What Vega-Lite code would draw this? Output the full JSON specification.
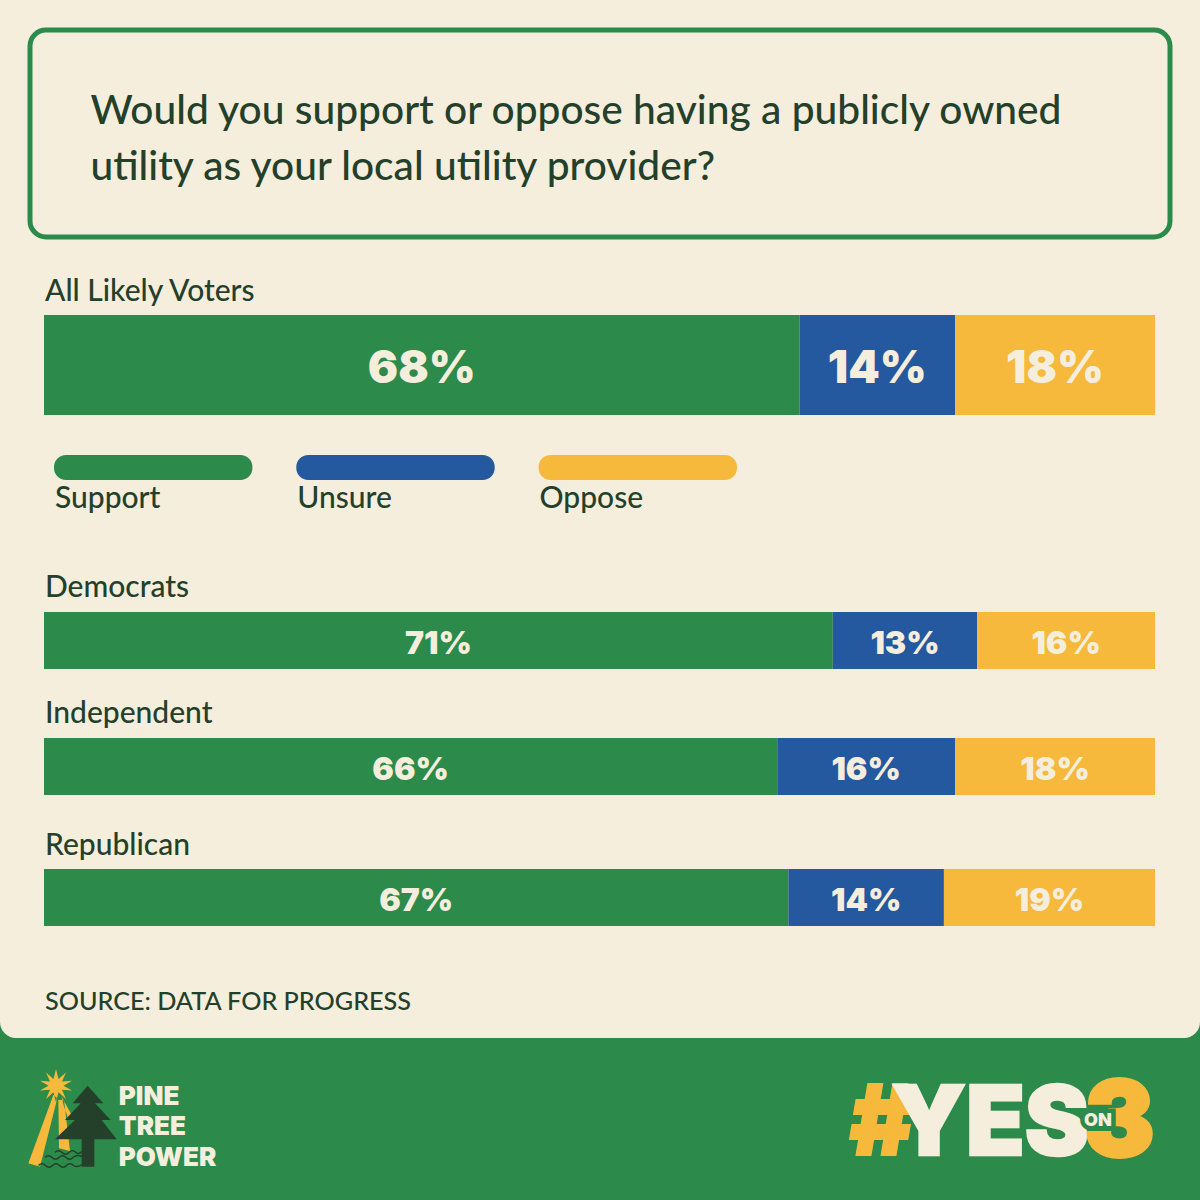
{
  "$schema": "https://vega.github.io/schema/vega-lite/v6.json",
  "background": "#2c8a4b",
  "padding": 0,
  "spacing": 0,
  "bounds": "flush",
  "config": {
    "axis": {"disable": true},
    "view": {"stroke": null, "fill": "#f5eedd"},
    "text": {"font": "Lato", "color": "#24402a"}
  },
  "datasets": {
    "poll": [
      {"group": "All Likely Voters", "response": "Support", "rank": 1, "share": 0.68},
      {"group": "All Likely Voters", "response": "Unsure", "rank": 2, "share": 0.14},
      {"group": "All Likely Voters", "response": "Oppose", "rank": 3, "share": 0.18},
      {"group": "Democrats", "response": "Support", "rank": 1, "share": 0.71},
      {"group": "Democrats", "response": "Unsure", "rank": 2, "share": 0.13},
      {"group": "Democrats", "response": "Oppose", "rank": 3, "share": 0.16},
      {"group": "Independent", "response": "Support", "rank": 1, "share": 0.66},
      {"group": "Independent", "response": "Unsure", "rank": 2, "share": 0.16},
      {"group": "Independent", "response": "Oppose", "rank": 3, "share": 0.18},
      {"group": "Republican", "response": "Support", "rank": 1, "share": 0.67},
      {"group": "Republican", "response": "Unsure", "rank": 2, "share": 0.14},
      {"group": "Republican", "response": "Oppose", "rank": 3, "share": 0.19}
    ],
    "question": [
      {"line": "Would you support or oppose having a publicly owned"},
      {"line": "utility as your local utility provider?"}
    ],
    "responses": [{"response": "Support"}, {"response": "Unsure"}, {"response": "Oppose"}]
  },
  "vconcat": [
    {
      "width": 1200,
      "height": 250,
      "layer": [
        {
          "data": {"values": [{}]},
          "mark": {"type": "rect", "fillOpacity": 0, "stroke": "#2c8a4b", "strokeWidth": 5, "cornerRadius": 16},
          "encoding": {
            "x": {"datum": 0, "type": "quantitative", "scale": {"domain": [0, 100], "range": [30, 1170]}},
            "x2": {"datum": 100},
            "y": {"datum": 0, "type": "quantitative", "scale": {"domain": [0, 100], "range": [30, 237]}},
            "y2": {"datum": 100}
          }
        },
        {
          "data": {"name": "question"},
          "mark": {"type": "text", "align": "left", "baseline": "middle", "fontSize": 40.7, "fontWeight": 500},
          "encoding": {
            "x": {"datum": 5.3, "type": "quantitative", "scale": {"domain": [0, 100], "range": [30, 1170]}},
            "y": {"field": "line", "type": "nominal", "sort": null, "scale": {"type": "point", "range": [112, 168], "padding": 0}},
            "text": {"field": "line"}
          }
        }
      ],
      "resolve": {"scale": {"y": "independent"}}
    },
    {
      "width": 1200,
      "height": 165,
      "data": {"name": "poll"},
      "transform": [
        {"filter": "datum.group === 'All Likely Voters'"},
        {"stack": "share", "groupby": ["group"], "sort": [{"field": "rank"}], "as": ["x0", "x1"]},
        {"calculate": "(datum.x0 + datum.x1) / 2", "as": "mid"}
      ],
      "encoding": {
        "y": {"field": "group", "type": "nominal", "scale": {"range": [65, 165], "paddingInner": 0, "paddingOuter": 0}}
      },
      "layer": [
        {
          "mark": {"type": "rect"},
          "encoding": {
            "x": {"field": "x0", "type": "quantitative", "scale": {"domain": [0, 1], "range": [44, 1155]}},
            "x2": {"field": "x1"},
            "color": {"field": "response", "type": "nominal", "legend": null, "scale": {"domain": ["Support", "Unsure", "Oppose"], "range": ["#2c8a4b", "#24589f", "#f6b93b"]}}
          }
        },
        {
          "mark": {"type": "text", "font": "Inter", "baseline": "middle", "dy": 4, "fontSize": 45, "fontWeight": 900, "color": "#f5eedd"},
          "encoding": {
            "x": {"field": "mid", "type": "quantitative", "scale": {"domain": [0, 1], "range": [44, 1155]}},
            "text": {"field": "share", "format": ".0%"}
          }
        },
        {
          "transform": [{"filter": "datum.rank === 1"}],
          "mark": {"type": "text", "align": "left", "baseline": "alphabetic", "dx": 1, "dy": -14, "fontSize": 30, "fontWeight": 500},
          "encoding": {
            "x": {"datum": 0, "type": "quantitative", "scale": {"domain": [0, 1], "range": [44, 1155]}},
            "y": {"field": "group", "type": "nominal", "bandPosition": 0},
            "text": {"field": "group"}
          }
        }
      ]
    },
    {
      "width": 1200,
      "height": 145,
      "data": {"name": "responses"},
      "encoding": {
        "x": {"field": "response", "type": "nominal", "sort": null, "scale": {"domain": ["Support", "Unsure", "Oppose"], "range": [54, 737], "paddingInner": 0.181, "paddingOuter": 0}},
        "y": {"datum": 0, "type": "quantitative", "scale": {"domain": [0, 100], "range": [40, 65]}}
      },
      "layer": [
        {
          "mark": {"type": "rect", "cornerRadius": 12},
          "encoding": {
            "y2": {"datum": 100},
            "color": {"field": "response", "type": "nominal", "legend": null, "scale": {"domain": ["Support", "Unsure", "Oppose"], "range": ["#2c8a4b", "#24589f", "#f6b93b"]}}
          }
        },
        {
          "mark": {"type": "text", "align": "left", "baseline": "middle", "dx": 1, "dy": 19, "fontSize": 30, "fontWeight": 500},
          "encoding": {
            "x": {"field": "response", "type": "nominal", "sort": null, "bandPosition": 0},
            "y": {"datum": 100, "type": "quantitative"},
            "text": {"field": "response"}
          }
        }
      ]
    },
    {
      "width": 1200,
      "height": 109,
      "data": {"name": "poll"},
      "transform": [
        {"filter": "datum.group === 'Democrats'"},
        {"stack": "share", "groupby": ["group"], "sort": [{"field": "rank"}], "as": ["x0", "x1"]},
        {"calculate": "(datum.x0 + datum.x1) / 2", "as": "mid"}
      ],
      "encoding": {
        "y": {"field": "group", "type": "nominal", "scale": {"range": [52, 109], "paddingInner": 0, "paddingOuter": 0}}
      },
      "layer": [
        {
          "mark": {"type": "rect"},
          "encoding": {
            "x": {"field": "x0", "type": "quantitative", "scale": {"domain": [0, 1], "range": [44, 1155]}},
            "x2": {"field": "x1"},
            "color": {"field": "response", "type": "nominal", "legend": null, "scale": {"domain": ["Support", "Unsure", "Oppose"], "range": ["#2c8a4b", "#24589f", "#f6b93b"]}}
          }
        },
        {
          "mark": {"type": "text", "font": "Inter", "baseline": "middle", "dy": 3, "fontSize": 32, "fontWeight": 900, "color": "#f5eedd"},
          "encoding": {
            "x": {"field": "mid", "type": "quantitative", "scale": {"domain": [0, 1], "range": [44, 1155]}},
            "text": {"field": "share", "format": ".0%"}
          }
        },
        {
          "transform": [{"filter": "datum.rank === 1"}],
          "mark": {"type": "text", "align": "left", "baseline": "alphabetic", "dx": 1, "dy": -15, "fontSize": 30, "fontWeight": 500},
          "encoding": {
            "x": {"datum": 0, "type": "quantitative", "scale": {"domain": [0, 1], "range": [44, 1155]}},
            "y": {"field": "group", "type": "nominal", "bandPosition": 0},
            "text": {"field": "group"}
          }
        }
      ]
    },
    {
      "width": 1200,
      "height": 126,
      "data": {"name": "poll"},
      "transform": [
        {"filter": "datum.group === 'Independent'"},
        {"stack": "share", "groupby": ["group"], "sort": [{"field": "rank"}], "as": ["x0", "x1"]},
        {"calculate": "(datum.x0 + datum.x1) / 2", "as": "mid"}
      ],
      "encoding": {
        "y": {"field": "group", "type": "nominal", "scale": {"range": [69, 126], "paddingInner": 0, "paddingOuter": 0}}
      },
      "layer": [
        {
          "mark": {"type": "rect"},
          "encoding": {
            "x": {"field": "x0", "type": "quantitative", "scale": {"domain": [0, 1], "range": [44, 1155]}},
            "x2": {"field": "x1"},
            "color": {"field": "response", "type": "nominal", "legend": null, "scale": {"domain": ["Support", "Unsure", "Oppose"], "range": ["#2c8a4b", "#24589f", "#f6b93b"]}}
          }
        },
        {
          "mark": {"type": "text", "font": "Inter", "baseline": "middle", "dy": 3, "fontSize": 32, "fontWeight": 900, "color": "#f5eedd"},
          "encoding": {
            "x": {"field": "mid", "type": "quantitative", "scale": {"domain": [0, 1], "range": [44, 1155]}},
            "text": {"field": "share", "format": ".0%"}
          }
        },
        {
          "transform": [{"filter": "datum.rank === 1"}],
          "mark": {"type": "text", "align": "left", "baseline": "alphabetic", "dx": 1, "dy": -15, "fontSize": 30, "fontWeight": 500},
          "encoding": {
            "x": {"datum": 0, "type": "quantitative", "scale": {"domain": [0, 1], "range": [44, 1155]}},
            "y": {"field": "group", "type": "nominal", "bandPosition": 0},
            "text": {"field": "group"}
          }
        }
      ]
    },
    {
      "width": 1200,
      "height": 131,
      "data": {"name": "poll"},
      "transform": [
        {"filter": "datum.group === 'Republican'"},
        {"stack": "share", "groupby": ["group"], "sort": [{"field": "rank"}], "as": ["x0", "x1"]},
        {"calculate": "(datum.x0 + datum.x1) / 2", "as": "mid"}
      ],
      "encoding": {
        "y": {"field": "group", "type": "nominal", "scale": {"range": [74, 131], "paddingInner": 0, "paddingOuter": 0}}
      },
      "layer": [
        {
          "mark": {"type": "rect"},
          "encoding": {
            "x": {"field": "x0", "type": "quantitative", "scale": {"domain": [0, 1], "range": [44, 1155]}},
            "x2": {"field": "x1"},
            "color": {"field": "response", "type": "nominal", "legend": null, "scale": {"domain": ["Support", "Unsure", "Oppose"], "range": ["#2c8a4b", "#24589f", "#f6b93b"]}}
          }
        },
        {
          "mark": {"type": "text", "font": "Inter", "baseline": "middle", "dy": 3, "fontSize": 32, "fontWeight": 900, "color": "#f5eedd"},
          "encoding": {
            "x": {"field": "mid", "type": "quantitative", "scale": {"domain": [0, 1], "range": [44, 1155]}},
            "text": {"field": "share", "format": ".0%"}
          }
        },
        {
          "transform": [{"filter": "datum.rank === 1"}],
          "mark": {"type": "text", "align": "left", "baseline": "alphabetic", "dx": 1, "dy": -14, "fontSize": 30, "fontWeight": 500},
          "encoding": {
            "x": {"datum": 0, "type": "quantitative", "scale": {"domain": [0, 1], "range": [44, 1155]}},
            "y": {"field": "group", "type": "nominal", "bandPosition": 0},
            "text": {"field": "group"}
          }
        }
      ]
    },
    {
      "width": 1200,
      "height": 112,
      "view": {"fill": "#2c8a4b"},
      "data": {"values": [{"source": "SOURCE: DATA FOR PROGRESS"}]},
      "encoding": {
        "x": {"datum": 0, "type": "quantitative", "scale": {"domain": [0, 100], "range": [0, 1200]}},
        "y": {"datum": 0, "type": "quantitative", "scale": {"domain": [0, 100], "range": [0, 112]}}
      },
      "layer": [
        {
          "mark": {"type": "rect", "color": "#f5eedd", "cornerRadiusBottomLeft": 16, "cornerRadiusBottomRight": 16},
          "encoding": {"x2": {"datum": 100}, "y2": {"datum": 100}}
        },
        {
          "mark": {"type": "text", "align": "left", "baseline": "middle", "fontSize": 25.2, "fontWeight": 500},
          "encoding": {
            "x": {"datum": 3.75, "type": "quantitative"},
            "y": {"datum": 67.5, "type": "quantitative"},
            "text": {"field": "source"}
          }
        }
      ]
    },
    {
      "width": 1200,
      "height": 162,
      "view": {"fill": "#2c8a4b"},
      "data": {"values": [{}]},
      "encoding": {
        "x": {"datum": 6, "type": "quantitative", "scale": {"domain": [0, 100], "range": [0, 1200]}},
        "y": {"datum": 50, "type": "quantitative", "scale": {"domain": [0, 100], "range": [0, 162]}}
      },
      "layer": [
        {
          "mark": {"type": "point", "filled": true, "opacity": 1, "size": 10000, "color": "#f6b93b", "strokeWidth": 0,
            "shape": "M-.373 -.48L-.873 .887L-.64 .953L-.293 -.413ZM-.273 -.38L-.26 .587L-.04 .64L-.16 -.38ZM-.207 -.447L-.007 -.08L-.073 0L-.16 -.247ZM-.32 -1L-.27 -.8L-.12 -.93L-.2 -.749L0 -.763L-.17 -.667L0 -.571L-.2 -.585L-.12 -.4L-.27 -.534L-.32 -.334L-.37 -.534L-.52 -.4L-.44 -.585L-.64 -.571L-.47 -.667L-.64 -.763L-.44 -.749L-.52 -.93L-.37 -.8Z"}
        },
        {
          "mark": {"type": "point", "filled": false, "opacity": 1, "size": 10000, "color": "#24402a", "strokeWidth": 1.5,
            "shape": "M-.34 .67Q-.27 .6 -.2 .67Q-.13 .74 -.06 .67Q.01 .6 .08 .67Q.14 .72 .2 .65M-.54 .77Q-.47 .7 -.4 .77Q-.33 .84 -.26 .77Q-.19 .7 -.12 .77Q-.05 .84 .02 .77Q.1 .7 .2 .75M-.67 .93Q-.6 .86 -.53 .93Q-.46 1 -.39 .93Q-.32 .86 -.25 .93Q-.18 1 -.11 .93Q-.04 .86 .03 .93Q.1 .98 .2 .91"}
        },
        {
          "mark": {"type": "point", "filled": true, "opacity": 1, "size": 10000, "color": "#24402a", "strokeWidth": 0,
            "shape": "M.313 -.667L.627 -.313L.46 -.313L.773 .02L.593 .02L.893 .407L.447 .407L.447 .953L.193 .953L.193 .407L-.34 .407L.06 .02L-.14 .02L.173 -.313L.013 -.313Z"}
        },
        {
          "mark": {"type": "text", "font": "Inter", "align": "left", "baseline": "middle", "fontSize": 26, "fontWeight": 900, "color": "#f5eedd"},
          "encoding": {
            "x": {"datum": 9.9, "type": "quantitative"},
            "y": {"datum": 36.4, "type": "quantitative"},
            "text": {"value": "PINE"}
          }
        },
        {
          "mark": {"type": "text", "font": "Inter", "align": "left", "baseline": "middle", "fontSize": 26, "fontWeight": 900, "color": "#f5eedd"},
          "encoding": {
            "x": {"datum": 9.9, "type": "quantitative"},
            "y": {"datum": 55.2, "type": "quantitative"},
            "text": {"value": "TREE"}
          }
        },
        {
          "mark": {"type": "text", "font": "Inter", "align": "left", "baseline": "middle", "fontSize": 26, "fontWeight": 900, "color": "#f5eedd"},
          "encoding": {
            "x": {"datum": 9.9, "type": "quantitative"},
            "y": {"datum": 74.1, "type": "quantitative"},
            "text": {"value": "POWER"}
          }
        },
        {
          "mark": {"type": "text", "font": "Inter", "align": "left", "baseline": "alphabetic", "fontSize": 98, "fontWeight": 900, "color": "#f6b93b", "stroke": "#f6b93b", "strokeWidth": 2},
          "encoding": {
            "x": {"datum": 70.8, "type": "quantitative"},
            "y": {"datum": 72, "type": "quantitative"},
            "text": {"value": "#"}
          }
        },
        {
          "mark": {"type": "text", "font": "Inter", "align": "left", "baseline": "alphabetic", "fontSize": 96, "fontWeight": 900, "color": "#f5eedd", "stroke": "#f5eedd", "strokeWidth": 2.5},
          "encoding": {
            "x": {"datum": 74.3, "type": "quantitative"},
            "y": {"datum": 72, "type": "quantitative"},
            "text": {"value": "YES"}
          }
        },
        {
          "mark": {"type": "text", "font": "Inter", "align": "right", "baseline": "alphabetic", "fontSize": 104, "fontWeight": 900, "color": "#f6b93b", "stroke": "#f6b93b", "strokeWidth": 4},
          "encoding": {
            "x": {"datum": 96.2, "type": "quantitative"},
            "y": {"datum": 73, "type": "quantitative"},
            "text": {"value": "3"}
          }
        },
        {
          "mark": {"type": "text", "font": "Inter", "align": "center", "baseline": "middle", "fontSize": 18, "fontWeight": 900, "color": "#2c8a4b", "stroke": "#2c8a4b", "strokeWidth": 9},
          "encoding": {
            "x": {"datum": 91.5, "type": "quantitative"},
            "y": {"datum": 51, "type": "quantitative"},
            "text": {"value": "ON"}
          }
        },
        {
          "mark": {"type": "text", "font": "Inter", "align": "center", "baseline": "middle", "fontSize": 18, "fontWeight": 900, "color": "#f5eedd"},
          "encoding": {
            "x": {"datum": 91.5, "type": "quantitative"},
            "y": {"datum": 51, "type": "quantitative"},
            "text": {"value": "ON"}
          }
        }
      ]
    }
  ]
}
